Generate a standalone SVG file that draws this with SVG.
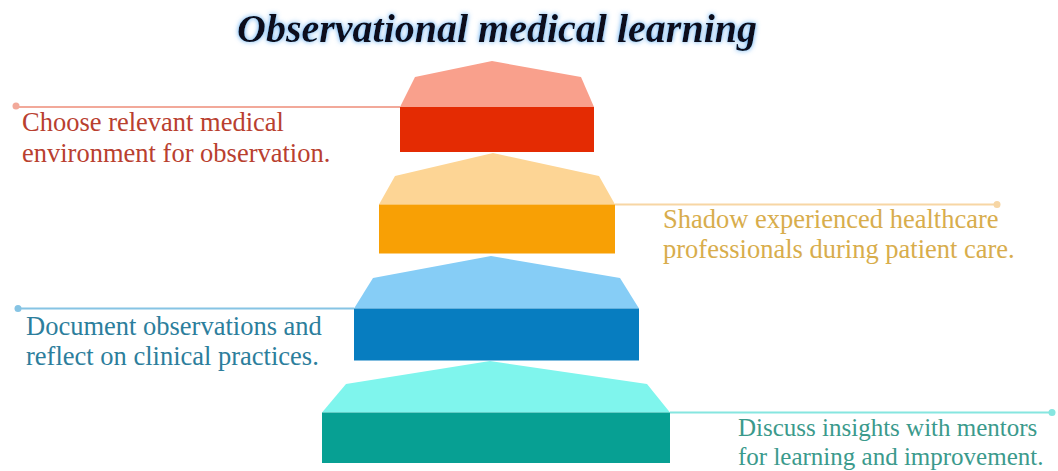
<svg xmlns="http://www.w3.org/2000/svg" width="1058" height="471" viewBox="0 0 1058 471">
  <defs>
    <filter id="glow" x="-10%" y="-40%" width="120%" height="180%">
      <feFlood flood-color="#5aa8f0" result="c"/>
      <feComposite in="c" in2="SourceAlpha" operator="in" result="b"/>
      <feGaussianBlur in="b" stdDeviation="2.5" result="g"/>
      <feMerge><feMergeNode in="g"/><feMergeNode in="SourceGraphic"/></feMerge>
    </filter>
  </defs>
  <style>
    .title { font-family: "Liberation Serif", "Times New Roman", serif; font-weight: bold; font-style: italic; font-size: 40px; fill: #0b0b1c; }
    .lbl { font-family: "Liberation Serif", "Times New Roman", serif; font-size: 26.5px; }
    .lbl.sm { font-size: 25px; }
    .ln { stroke-width: 2; fill: none; }
  </style>
  <rect width="1058" height="471" fill="#ffffff"/>
  <text class="title" x="497" y="42" text-anchor="middle" filter="url(#glow)">Observational medical learning</text>

  <g id="connectors">
    <line class="ln" x1="16" y1="107" x2="400" y2="107" stroke="#f2a99a"/>
    <circle cx="16" cy="106" r="3.5" fill="#f2a99a"/>
    <line class="ln" x1="615" y1="204.5" x2="997" y2="204.5" stroke="#f7d6a4"/>
    <circle cx="997" cy="204.5" r="3.5" fill="#f7d6a4"/>
    <line class="ln" x1="18" y1="308.5" x2="354" y2="308.5" stroke="#86c4e4"/>
    <circle cx="18" cy="308.5" r="3.5" fill="#86c4e4"/>
    <line class="ln" x1="670" y1="412.5" x2="1052" y2="412.5" stroke="#86e6e0"/>
    <circle cx="1052" cy="412.5" r="3.5" fill="#86e6e0"/>
  </g>

  <g id="step1">
    <polygon points="400,107 415,77 492,61 581,77 594,107" fill="#f9a08c"/>
    <rect x="400" y="107" width="194" height="45" fill="#e42b03"/>
    <text class="lbl" fill="#b9402f"><tspan x="22" y="131">Choose relevant medical</tspan><tspan x="22" y="162">environment for observation.</tspan></text>
  </g>

  <g id="step2">
    <polygon points="379,204.5 395,176 493,153 599,176 615,204.5" fill="#fdd595"/>
    <rect x="379" y="204.5" width="236" height="49" fill="#f8a005"/>
    <text class="lbl" fill="#d8ad4c"><tspan x="663" y="228">Shadow experienced healthcare</tspan><tspan x="663" y="258">professionals during patient care.</tspan></text>
  </g>

  <g id="step3">
    <polygon points="354,308.5 373,278 491,256 620,278 639,308.5" fill="#86cdf6"/>
    <rect x="354" y="308.5" width="285" height="52" fill="#077dc0"/>
    <text class="lbl" fill="#2c7e9c"><tspan x="26" y="335">Document observations and</tspan><tspan x="26" y="365">reflect on clinical practices.</tspan></text>
  </g>

  <g id="step4">
    <polygon points="322,412.5 346,384 490,361 647,384 670,412.5" fill="#7ff5ed"/>
    <rect x="322" y="412.5" width="348" height="50.5" fill="#07a093"/>
    <text class="lbl sm" fill="#3b9a8c"><tspan x="738" y="436">Discuss insights with mentors</tspan><tspan x="738" y="465">for learning and improvement.</tspan></text>
  </g>
</svg>
